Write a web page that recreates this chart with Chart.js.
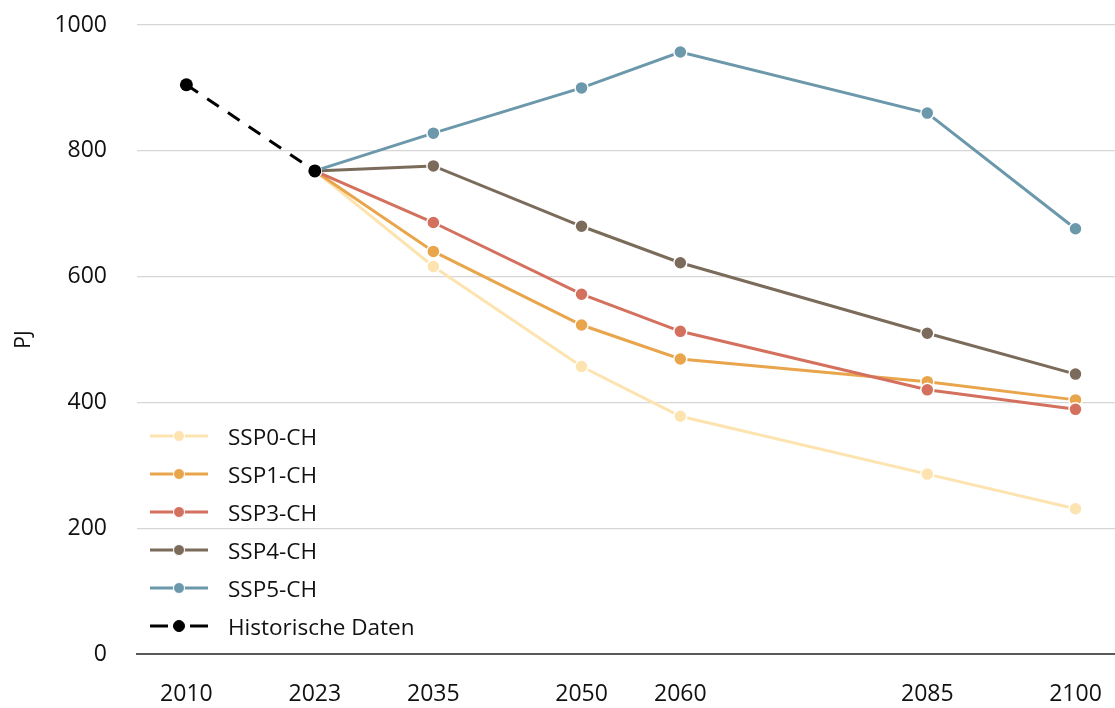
<!doctype html>
<html lang="de">
<head>
<meta charset="utf-8">
<title>Szenarien PJ</title>
<script src="https://cdn.jsdelivr.net/npm/chart.js"></script>
<style>
    body { margin: 0; background: #fff; }
    #wrap { position: relative; width: 1115px; height: 708px; }
    #legend {
        position: absolute; left: 150px; top: 417px;
        font-family: "Open Sans", sans-serif; font-size: 22.5px; color: #111;
    }
    .row { display: flex; align-items: center; height: 38px; }
    .row svg { margin-right: 20px; }
</style>
</head>
<body>
<div id="wrap">
    <canvas id="chart" width="1115" height="708"></canvas>
    <div id="legend"></div>
</div>
<script>
    const tickYears = [2010, 2023, 2035, 2050, 2060, 2085, 2100];
    const histYears = [2010, 2023];
    const histValues = [905, 768];
    const years = [2023, 2035, 2050, 2060, 2085, 2100];
    const ssp0 = [768, 616, 457, 378, 286, 231];
    const ssp1 = [768, 640, 523, 469, 433, 404];
    const ssp3 = [768, 686, 572, 513, 420, 389];
    const ssp4 = [768, 776, 680, 622, 510, 445];
    const ssp5 = [768, 828, 900, 957, 860, 676];

    const toXY = (xs, ys) => xs.map((x, i) => ({x: x, y: ys[i]}));

    // first dataset is drawn on top
    const series = [
        {label: 'Historische Daten', xs: histYears, ys: histValues, color: '#000000', dash: [14, 11]},
        {label: 'SSP5-CH', xs: years, ys: ssp5, color: '#6B98AA'},
        {label: 'SSP4-CH', xs: years, ys: ssp4, color: '#7B6B5B'},
        {label: 'SSP3-CH', xs: years, ys: ssp3, color: '#D4705E'},
        {label: 'SSP1-CH', xs: years, ys: ssp1, color: '#E9A54C'},
        {label: 'SSP0-CH', xs: years, ys: ssp0, color: '#FDE3B0'}
    ];

    new Chart(document.getElementById('chart'), {
        type: 'line',
        data: {
            datasets: series.map(s => ({
                label: s.label,
                data: toXY(s.xs, s.ys),
                borderColor: s.color,
                backgroundColor: s.color,
                borderWidth: 3,
                borderDash: s.dash || [],
                pointRadius: 6.5,
                pointBorderColor: s.dash ? s.color : '#ffffff',
                pointBorderWidth: s.dash ? 0 : 1.5,
                pointBackgroundColor: s.color,
                tension: 0
            }))
        },
        options: {
            responsive: false,
            animation: false,
            layout: {autoPadding: false, padding: {top: 25, right: 0, left: 0, bottom: 0}},
            plugins: {legend: {display: false}, tooltip: {enabled: false}},
            scales: {
                x: {
                    type: 'linear',
                    min: 2005,
                    max: 2104,
                    afterBuildTicks: axis => { axis.ticks = tickYears.map(v => ({value: v})); },
                    afterFit: axis => {
                        axis.height = 54;
                        axis.paddingLeft = 0;
                        axis.paddingRight = 0;
                    },
                    grid: {display: false, drawTicks: false},
                    border: {display: true, color: '#595959', width: 2},
                    ticks: {
                        padding: 27,
                        color: '#111',
                        font: {family: 'Open Sans', size: 23},
                        callback: v => String(v),
                        maxRotation: 0
                    }
                },
                y: {
                    min: 0,
                    max: 1000,
                    afterFit: axis => {
                        axis.width = 137;
                        axis.paddingTop = 0;
                        axis.paddingBottom = 0;
                    },
                    grid: {
                        drawTicks: false,
                        color: ctx => ctx.tick && ctx.tick.value === 0 ? 'rgba(0,0,0,0)' : '#d6d6d6',
                        lineWidth: 1.3
                    },
                    border: {display: false},
                    ticks: {
                        stepSize: 200,
                        padding: 30,
                        color: '#111',
                        font: {family: 'Open Sans', size: 23},
                        callback: v => String(v)
                    },
                    title: {
                        display: true,
                        text: 'PJ',
                        color: '#111',
                        font: {family: 'Open Sans', size: 21},
                        padding: {top: 11, bottom: 0}
                    }
                }
            }
        }
    });

    // legend inside the plot, lower left
    const legendOrder = ['SSP0-CH', 'SSP1-CH', 'SSP3-CH', 'SSP4-CH', 'SSP5-CH', 'Historische Daten'];
    const legend = document.getElementById('legend');
    legendOrder.forEach(name => {
        const s = series.find(d => d.label === name);
        const row = document.createElement('div');
        row.className = 'row';
        const line = s.dash
            ? '<line x1="0" y1="10" x2="18" y2="10" stroke="#000" stroke-width="3"/><line x1="40" y1="10" x2="58" y2="10" stroke="#000" stroke-width="3"/>'
            : '<line x1="0" y1="10" x2="58" y2="10" stroke="' + s.color + '" stroke-width="3"/>';
        row.innerHTML = '<svg width="58" height="20">' + line +
            '<circle cx="29" cy="10" r="5.5" fill="' + s.color + '" stroke="' + (s.dash ? s.color : '#fff') + '" stroke-width="1"/></svg>' +
            '<span>' + name + '</span>';
        legend.appendChild(row);
    });
</script>
</body>
</html>
